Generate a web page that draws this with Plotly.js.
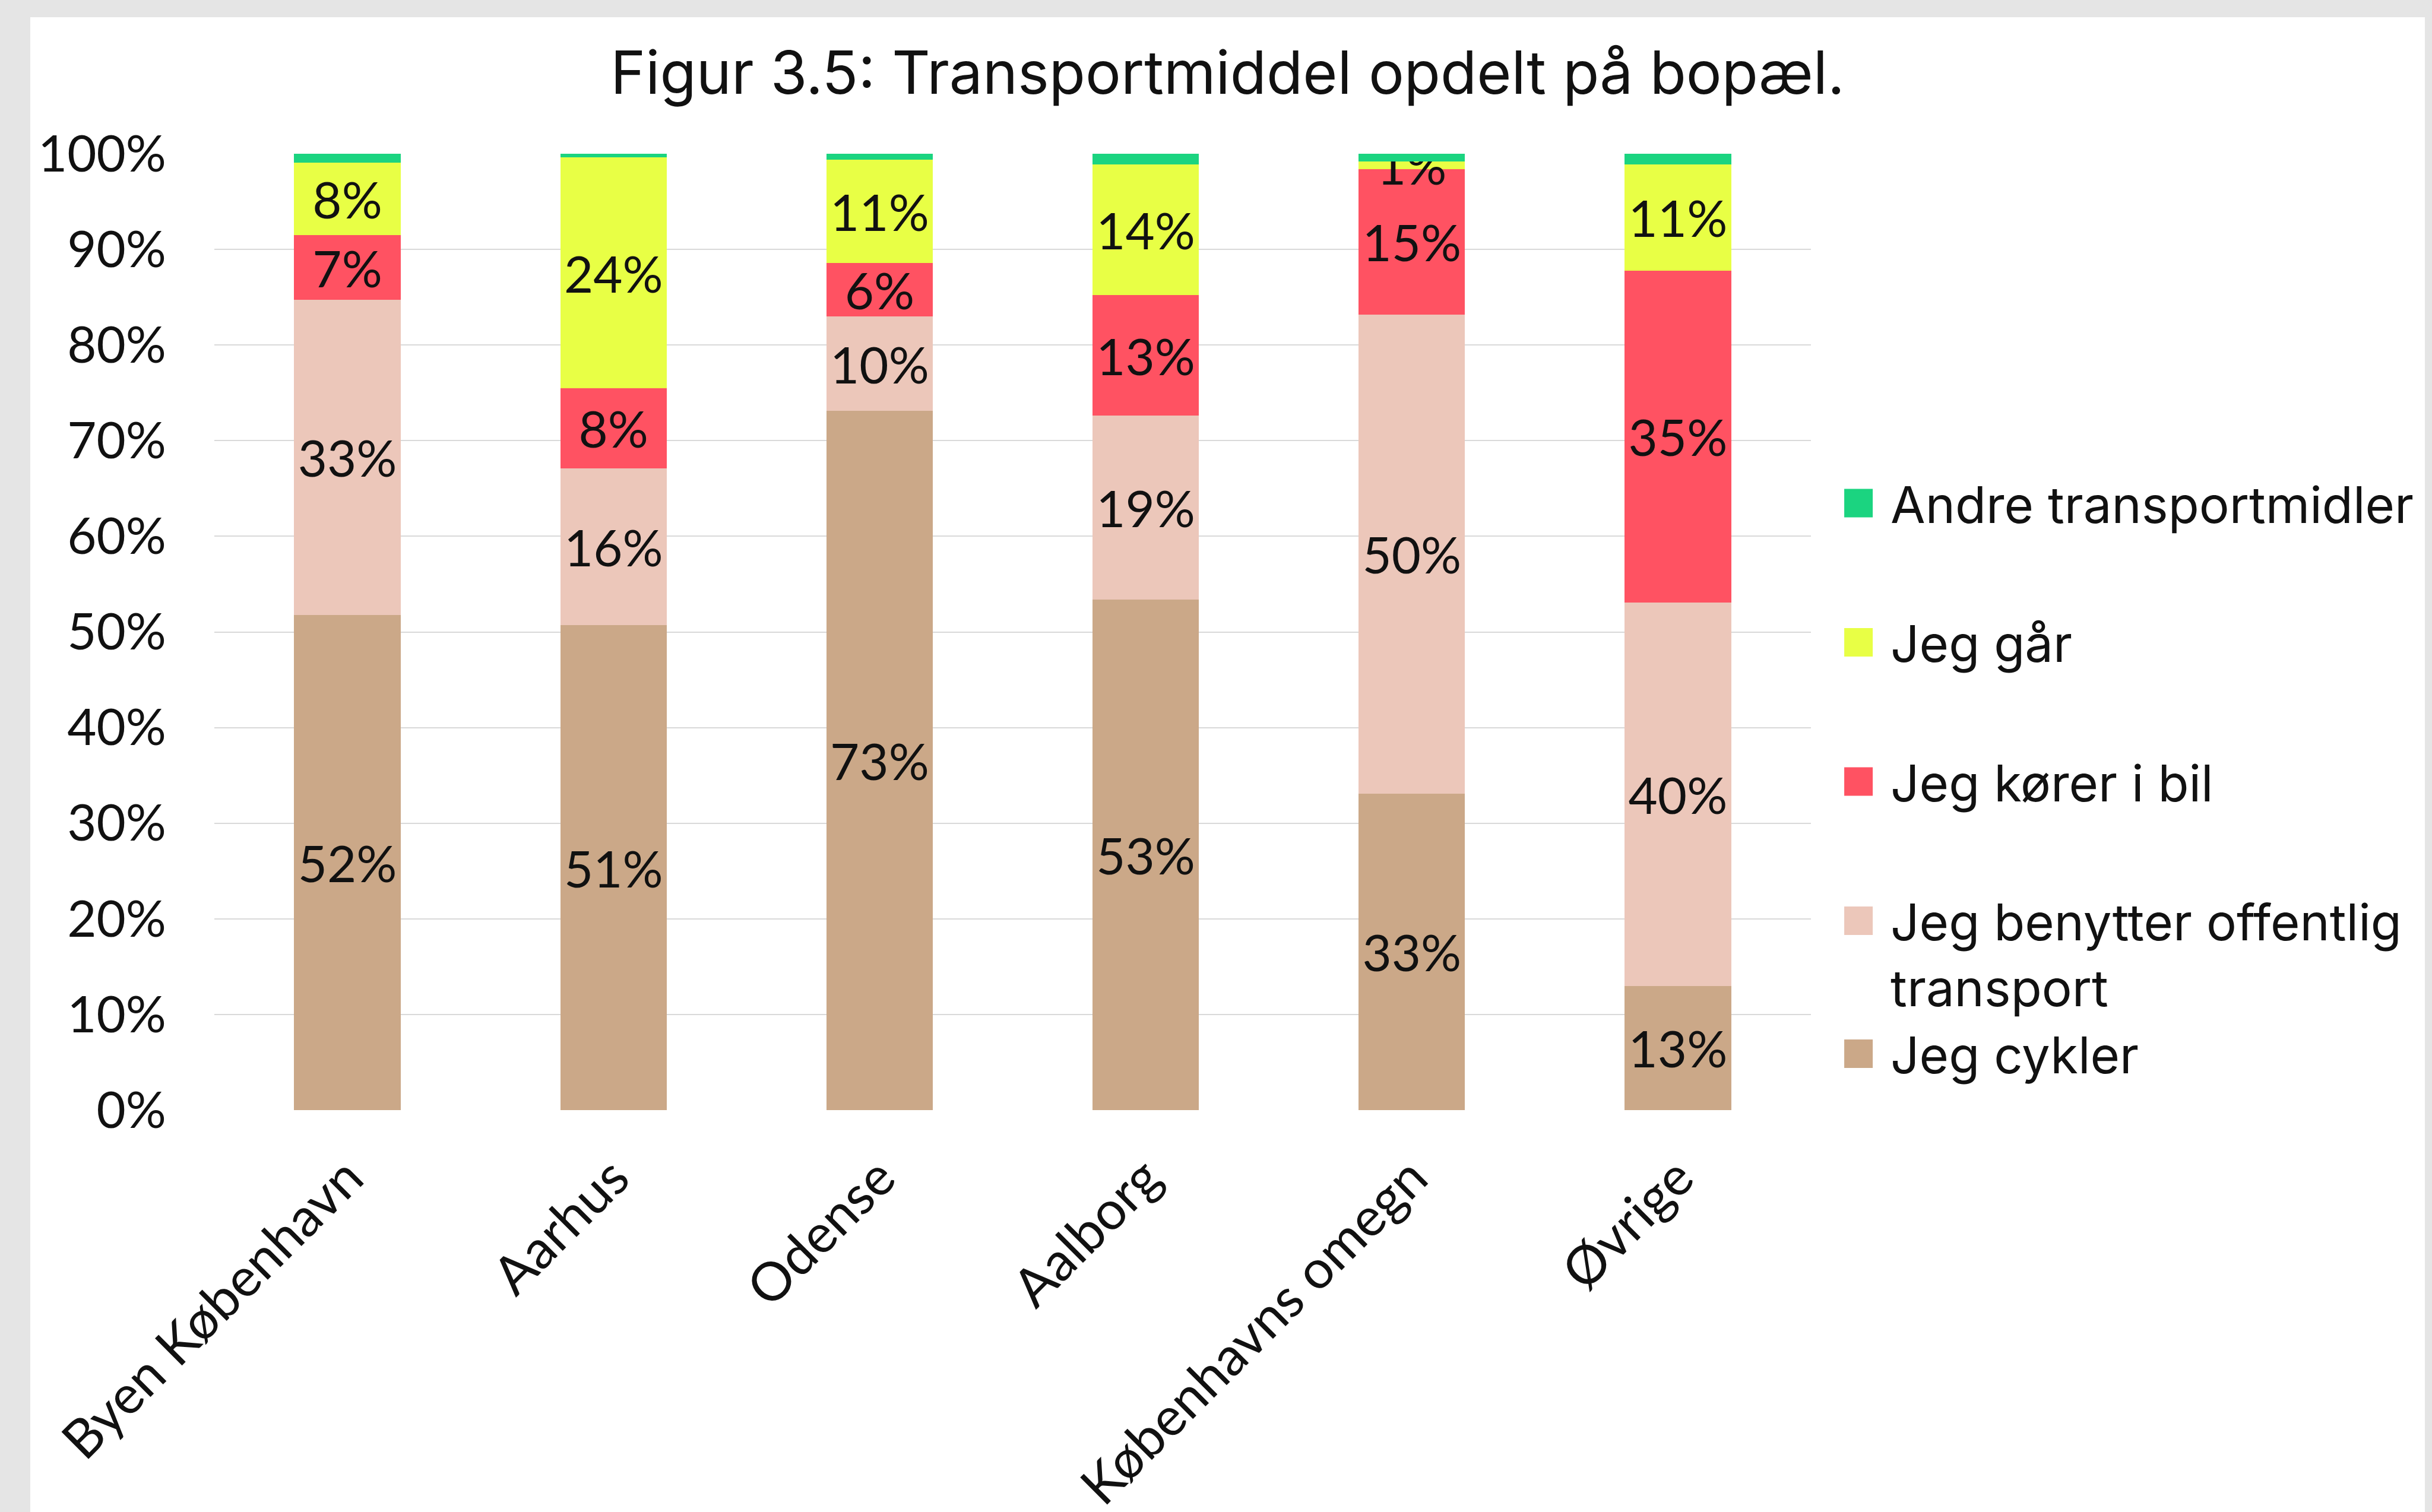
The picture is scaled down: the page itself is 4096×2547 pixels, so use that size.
<!DOCTYPE html>
<html>
<head>
<meta charset="utf-8">
<script src="https://cdn.plot.ly/plotly-3.0.1.min.js"></script>
<style>
  html, body { margin: 0; padding: 0; width: 4096px; height: 2547px; background: #e5e5e5; overflow: hidden; }
  #chart { position: absolute; left: 51px; top: 29px; width: 4033px; height: 2518px; background: #ffffff; }
</style>
</head>
<body>
<div id="chart"></div>
<script>
// Categories (bopæl)
const categories = ["Byen København", "Aarhus", "Odense", "Aalborg", "Københavns omegn", "Øvrige"];

// Series values in percent
const cykler     = [51.8, 50.7, 73.1, 53.4, 33.1, 13.0];
const offentlig  = [32.9, 16.4,  9.9, 19.2, 50.1, 40.1];
const bil        = [ 6.8,  8.4,  5.6, 12.6, 15.2, 34.7];
const gaar       = [ 7.6, 24.1, 10.8, 13.7,  0.8, 11.1];
const andre      = [ 0.9,  0.4,  0.6,  1.1,  0.8,  1.1];

const seriesNames = ["Jeg cykler", "Jeg benytter offentlig<br>transport", "Jeg kører i bil", "Jeg går", "Andre transportmidler"];
const seriesColors = ["#CBA888", "#ECC7BA", "#FF5262", "#E8FF45", "#1BD480"];
const showLabels = [true, true, true, true, false];
const legendRanks = [5, 4, 3, 2, 1];
const legendGroups = ["oc", "oc", "bil", "gaar", "andre"];

const yTickVals = [0, 10, 20, 30, 40, 50, 60, 70, 80, 90, 100];
const yTickText = ["0%", "10%", "20%", "30%", "40%", "50%", "60%", "70%", "80%", "90%", "100%"];

const titleText = "Figur 3.5: Transportmiddel opdelt på bopæl.";

const labelFont = "Lato, 'Noto Sans', sans-serif";
const textFont = "Inter, 'Noto Sans', sans-serif";

const allSeries = [cykler, offentlig, bil, gaar, andre];
const traces = allSeries.map((vals, i) => ({
  type: "bar",
  name: seriesNames[i],
  x: categories,
  y: vals,
  legendrank: legendRanks[i],
  legendgroup: legendGroups[i],
  marker: { color: seriesColors[i], line: { width: 0 } },
  text: showLabels[i] ? vals.map(v => Math.round(v) + "%") : vals.map(() => ""),
  textposition: "inside",
  insidetextanchor: "middle",
  textangle: 0,
  constraintext: "none",
  textfont: { family: labelFont, size: 85, color: "#111111" },
  hoverinfo: "skip"
}));

const layout = {
  width: 4033,
  height: 2518,
  barmode: "stack",
  bargap: 0.6,
  paper_bgcolor: "#ffffff",
  plot_bgcolor: "#ffffff",
  margin: { l: 310, r: 1034, t: 230, b: 677, pad: 0 },
  title: {
    text: titleText,
    font: { family: textFont, size: 100, color: "#111111" },
    x: 0.5, xanchor: "center", xref: "container",
    y: 1 - 94 / 2518, yanchor: "middle", yref: "container"
  },
  xaxis: {
    type: "category",
    tickangle: -45,
    tickfont: { family: labelFont, size: 90, color: "#111111" },
    ticklabelstandoff: 42,
    showgrid: false,
    showline: false,
    zeroline: false,
    ticks: ""
  },
  yaxis: {
    range: [0, 100],
    tickvals: yTickVals,
    ticktext: yTickText,
    tickfont: { family: labelFont, size: 85, color: "#111111" },
    ticklabelstandoff: 80,
    showgrid: true,
    gridcolor: "#d9d9d9",
    gridwidth: 2,
    zeroline: false,
    showline: false,
    ticks: ""
  },
  showlegend: true,
  legend: {
    x: 1.0097, xanchor: "left",
    y: 0.673, yanchor: "top",
    traceorder: "grouped",
    tracegroupgap: 121,
    itemwidth: 98,
    valign: "top",
    font: { family: textFont, size: 85, color: "#111111" },
    bgcolor: "rgba(0,0,0,0)"
  }
};

Plotly.newPlot("chart", traces, layout, { displayModeBar: false, staticPlot: true }).then(() => {
  // enlarge the legend colour swatches to match the reference's square keys
  document.querySelectorAll("#chart .legend .legendpoints path").forEach(p => {
    p.setAttribute("d", "M24,24H-24V-24H24Z");
  });
});
</script>
</body>
</html>
